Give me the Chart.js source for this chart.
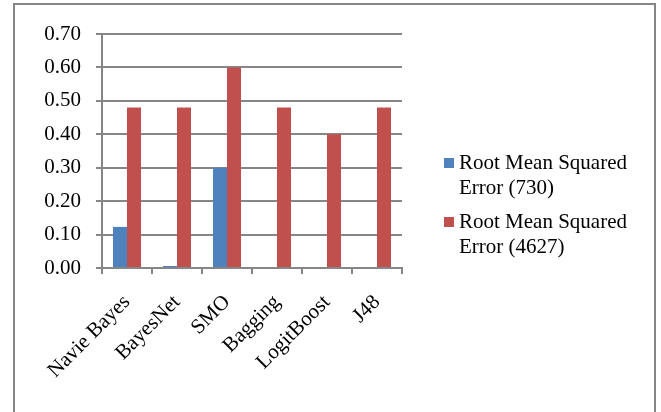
<!DOCTYPE html>
<html>
<head>
<meta charset="utf-8">
<script src="https://cdn.jsdelivr.net/npm/chart.js"></script>
<style>
  html, body { margin: 0; padding: 0; background: #fff; }
  canvas { display: block; }
</style>
</head>
<body>
<canvas id="rmseChart" width="661" height="412"></canvas>
<script>
const classifiers = ['Navie Bayes', 'BayesNet', 'SMO', 'Bagging', 'LogitBoost', 'J48'];
const rmse730 = [0.123, 0.006, 0.30, 0, 0, 0];
const rmse4627 = [0.48, 0.48, 0.60, 0.48, 0.40, 0.48];
const seriesNames = [['Root Mean Squared', 'Error (730)'], ['Root Mean Squared', 'Error (4627)']];

const gridGray = '#868686';
const serif = "'Liberation Serif', 'Times New Roman', serif";

// frame around the chart plus a two-line legend on the right
const framePlugin = {
  id: 'frameAndLegend',
  beforeDraw(chart) {
    const ctx = chart.ctx;
    ctx.save();
    ctx.fillStyle = '#fff';
    ctx.fillRect(0, 0, chart.width, chart.height);
    ctx.strokeStyle = gridGray;
    ctx.lineWidth = 2;
    ctx.strokeRect(14, 4, 641, 420);
    ctx.restore();
  },
  afterDraw(chart) {
    const ctx = chart.ctx;
    ctx.save();
    ctx.font = '21px ' + serif;
    ctx.textBaseline = 'alphabetic';
    let y = 169;
    chart.data.datasets.forEach((ds, i) => {
      ctx.fillStyle = ds.backgroundColor;
      ctx.fillRect(444, y - 11, 10, 10);
      ctx.fillStyle = '#000';
      seriesNames[i].forEach((line, j) => {
        ctx.fillText(line, 459, y + j * 25);
      });
      y += 59;
    });
    ctx.restore();
  }
};

new Chart(document.getElementById('rmseChart').getContext('2d'), {
  type: 'bar',
  data: {
    labels: classifiers,
    datasets: [
      { label: 'Root Mean Squared Error (730)', data: rmse730, backgroundColor: '#4F81BD' },
      { label: 'Root Mean Squared Error (4627)', data: rmse4627, backgroundColor: '#C0504D' }
    ]
  },
  options: {
    responsive: false,
    animation: false,
    devicePixelRatio: 1,
    categoryPercentage: 0.56,
    barPercentage: 1.0,
    layout: { padding: { left: 14, right: 259, top: 34, bottom: 0 } },
    plugins: { legend: { display: false }, tooltip: { enabled: false } },
    scales: {
      y: {
        min: 0,
        max: 0.7,
        afterFit(scale) { scale.width = 88; },
        ticks: {
          stepSize: 0.1,
          padding: 15,
          color: '#000',
          font: { family: serif, size: 21 },
          callback: v => v.toFixed(2)
        },
        grid: { color: gridGray, lineWidth: 2, tickLength: 6 },
        border: { color: gridGray, width: 2 }
      },
      x: {
        afterFit(scale) { scale.height = 144; },
        ticks: {
          minRotation: 45,
          maxRotation: 45,
          padding: 16,
          color: '#000',
          font: { family: serif, size: 21 }
        },
        grid: { drawOnChartArea: false, color: gridGray, lineWidth: 2, tickLength: 6 },
        border: { color: gridGray, width: 2 }
      }
    }
  },
  plugins: [framePlugin]
});
</script>
</body>
</html>
